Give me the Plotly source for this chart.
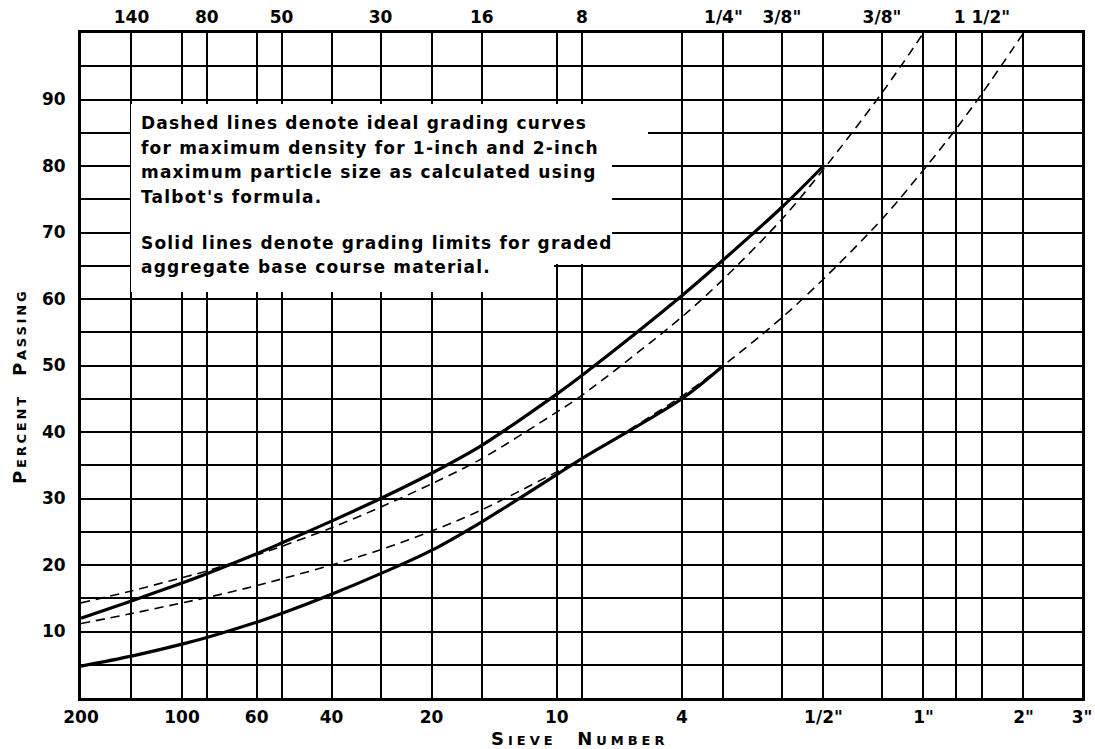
import math
import plotly.graph_objects as go

# ---------------- data ----------------
# sieve openings (mm) of every vertical grid line
grid_sizes = [0.074, 0.105, 0.149, 0.177, 0.25, 0.297, 0.42, 0.59, 0.84, 1.19,
              2.0, 2.38, 4.76, 6.35, 9.52, 12.7, 19.05, 25.4, 31.75, 38.1, 50.8, 76.2]
bottom_labels = {0.074: "200", 0.149: "100", 0.25: "60", 0.42: "40", 0.84: "20",
                 2.0: "10", 4.76: "4", 12.7: '1/2"', 25.4: '1"', 50.8: '2"', 76.2: '3"'}
top_sizes = [0.105, 0.177, 0.297, 0.59, 1.19, 2.38, 6.35, 9.52, 19.05, 38.1]
top_labels = ["140", "80", "50", "30", "16", "8", '1/4"', '3/8"', '3/8"', '1 1/2"']

y_grid = list(range(0, 101, 5))
y_labels = ["10", "20", "30", "40", "50", "60", "70", "80", "90"]

# solid lines: grading limits
upper_limit_x = [0.074, 0.105, 0.149, 0.177, 0.25, 0.297, 0.42, 0.59, 0.84, 1.19,
                 2.0, 2.38, 4.76, 6.35, 9.52, 12.7]
upper_limit_y = [12.0, 14.6, 17.3, 18.7, 21.7, 23.3, 26.6, 30.0, 33.8, 38.0,
                 45.7, 48.5, 60.5, 65.9, 73.8, 80.0]
lower_limit_x = [0.074, 0.105, 0.149, 0.177, 0.25, 0.297, 0.42, 0.59, 0.84, 1.19,
                 2.0, 2.38, 4.76, 6.35]
lower_limit_y = [4.8, 6.3, 8.1, 9.1, 11.4, 12.7, 15.6, 18.7, 22.2, 26.5,
                 33.6, 36.0, 45.0, 50.0]

# dashed lines: ideal curves (1-inch and 2-inch maximum size)
ideal_1in_x = [0.074, 0.105, 0.149, 0.177, 0.25, 0.297, 0.42, 0.59, 0.84, 1.19,
               2.0, 2.38, 4.76, 6.35, 9.52, 12.7, 19.05, 25.4]
ideal_1in_y = [14.3, 16.1, 18.1, 19.1, 21.5, 22.8, 25.6, 28.7, 32.2, 36.0,
               43.0, 45.5, 57.3, 63.0, 72.0, 79.5, 91.0, 100.0]
ideal_2in_x = [0.074, 0.105, 0.149, 0.177, 0.25, 0.297, 0.42, 0.59, 0.84, 1.19,
               2.0, 2.38, 4.76, 6.35, 9.52, 12.7, 19.05, 25.4, 31.75, 38.1, 50.8]
ideal_2in_y = [11.2, 12.7, 14.3, 15.1, 16.9, 17.9, 20.0, 22.3, 25.1, 28.3,
               34.0, 36.0, 45.4, 50.0, 57.2, 63.0, 72.0, 79.4, 85.5, 90.9, 100.0]

note_lines = [
    "Dashed lines denote ideal grading curves",
    "for maximum density for 1-inch and 2-inch",
    "maximum particle size as calculated using",
    "Talbot's formula.",
    "Solid lines denote grading limits for graded",
    "aggregate base course material.",
]

# ---------------- figure ----------------
W, H = 1095, 749
L, R, T, B = 81, 13, 33, 51
pw, ph = W - L - R, H - T - B

def px2paper_x(px):
    return (px - L) / pw

def px2paper_y(py):
    return (H - B - py) / ph

FONT = "DejaVu Sans"
fig = go.Figure()

solid = dict(color="black", width=3.2, shape="spline", smoothing=0.9)
dashed = dict(color="black", width=1.6, dash="9px,6px", shape="spline", smoothing=0.9)

fig.add_trace(go.Scatter(x=ideal_1in_x, y=ideal_1in_y, mode="lines", line=dashed,
                         hoverinfo="skip", showlegend=False))
fig.add_trace(go.Scatter(x=ideal_2in_x, y=ideal_2in_y, mode="lines", line=dashed,
                         hoverinfo="skip", showlegend=False))
fig.add_trace(go.Scatter(x=upper_limit_x, y=upper_limit_y, mode="lines", line=solid,
                         hoverinfo="skip", showlegend=False))
fig.add_trace(go.Scatter(x=lower_limit_x, y=lower_limit_y, mode="lines", line=solid,
                         hoverinfo="skip", showlegend=False))
# invisible trace to bind the top axis
fig.add_trace(go.Scatter(x=top_sizes, y=[None] * len(top_sizes), xaxis="x2",
                         mode="lines", hoverinfo="skip", showlegend=False))

xr = [math.log10(grid_sizes[0]), math.log10(grid_sizes[-1])]
tick_font = dict(family=FONT, size=17, color="black", weight="bold")

fig.update_layout(
    width=W, height=H,
    margin=dict(l=L, r=R, t=T, b=B, autoexpand=False),
    paper_bgcolor="white", plot_bgcolor="white",
    xaxis=dict(
        type="log", range=xr, automargin=False,
        tickmode="array", tickvals=grid_sizes,
        ticktext=[bottom_labels.get(s, "") for s in grid_sizes],
        showgrid=True, gridcolor="black", gridwidth=2,
        showline=True, linecolor="black", linewidth=3, mirror=True,
        ticks="", ticklabelstandoff=2, tickfont=tick_font,
        ticklabeloverflow="allow", zeroline=False,
    ),
    xaxis2=dict(
        type="log", range=xr, overlaying="x", side="top", automargin=False,
        tickmode="array", tickvals=top_sizes, ticktext=top_labels,
        showgrid=False, showline=False, ticks="", ticklabelstandoff=6,
        tickfont=tick_font, ticklabeloverflow="allow", zeroline=False,
    ),
    yaxis=dict(
        range=[0, 100], automargin=False, tickmode="array", tickvals=y_grid,
        ticktext=[str(v) if str(v) in y_labels else "" for v in y_grid],
        showgrid=True, gridcolor="black", gridwidth=2,
        showline=True, linecolor="black", linewidth=3, mirror=True,
        ticks="", ticklabelstandoff=9, tickfont=tick_font, zeroline=False,
    ),
)

# axis titles (small caps)
title_font = dict(family=FONT, size=18, color="black", weight="bold", variant="small-caps")
fig.add_annotation(xref="paper", yref="paper", x=px2paper_x(580), y=px2paper_y(738),
                   xanchor="center", yanchor="middle", showarrow=False,
                   text="<span style='letter-spacing:4px'>Sieve  Number</span>",
                   font=title_font)
fig.add_annotation(xref="paper", yref="paper", x=px2paper_x(19), y=px2paper_y(387),
                   xanchor="center", yanchor="middle", showarrow=False, textangle=-90,
                   text="<span style='letter-spacing:2.8px'>Percent  Passing</span>",
                   font=title_font)

# white box behind the note (gridlines erased there)
boxes = [
    (131, 554, 104, 292),
    (552, 612, 104, 264),
    (610, 648, 104, 160),
]
for x0, x1, y0, y1 in boxes:
    fig.add_shape(type="rect", xref="paper", yref="paper",
                  x0=px2paper_x(x0), x1=px2paper_x(x1),
                  y0=px2paper_y(y1), y1=px2paper_y(y0),
                  fillcolor="white", line=dict(width=0), layer="above")

line_centers = [123, 148, 172, 197, 243, 267]
for txt, cy in zip(note_lines, line_centers):
    fig.add_annotation(
        xref="paper", yref="paper", x=px2paper_x(139), y=px2paper_y(cy),
        xanchor="left", yanchor="middle", showarrow=False,
        text=f"<span style='letter-spacing:1.2px'>{txt}</span>",
        font=dict(family=FONT, size=17, color="black", weight="bold"),
    )

fig.write_html(
    "out.html",
    config={"displayModeBar": False},
    post_script="document.body.style.margin='0';document.body.style.overflow='hidden';",
)
